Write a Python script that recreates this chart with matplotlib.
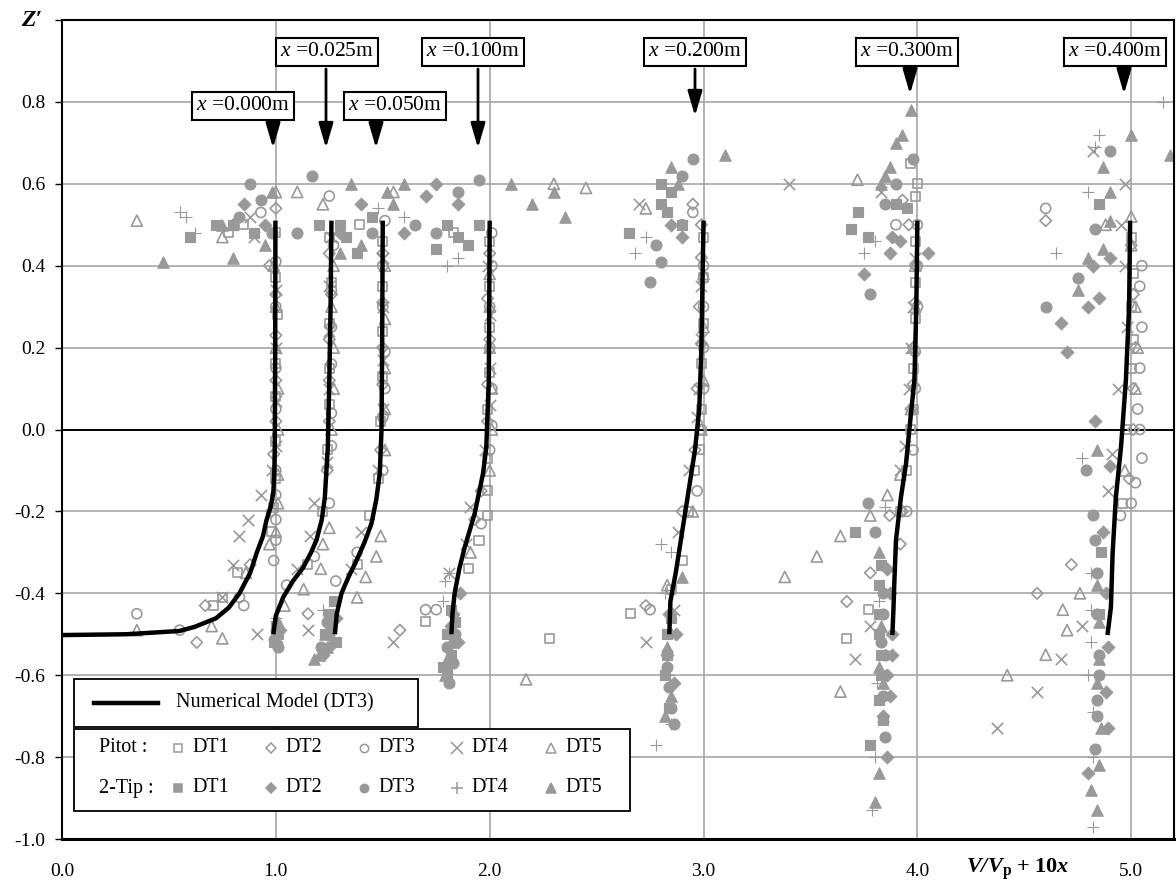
import matplotlib
matplotlib.use("Agg")
import matplotlib.pyplot as plt
from matplotlib.patches import Rectangle
from matplotlib.lines import Line2D

# ---------------- data ----------------
XTICKS = [0.0, 1.0, 2.0, 3.0, 4.0, 5.0]
XTICKLABELS = ["0.0", "1.0", "2.0", "3.0", "4.0", "5.0"]
YTICKS = [-1.0, -0.8, -0.6, -0.4, -0.2, 0.0, 0.2, 0.4, 0.6, 0.8, 1.0]
YTICKLABELS = ["-1.0", "-0.8", "-0.6", "-0.4", "-0.2", "0.0", "0.2", "0.4", "0.6", "0.8", ""]

PROFILE_LABELS = ["0.000", "0.025", "0.050", "0.100", "0.200", "0.300", "0.400"]

# numerical model (DT3) profiles: x = V/Vp + 10x, y = Z'
MODEL_000_X = [0.0, 0.30, 0.55, 0.62, 0.72, 0.78, 0.83, 0.88, 0.91, 0.94, 0.956, 0.975, 0.988, 0.993, 0.995, 0.997, 0.998]
MODEL_000_Y = [-0.502, -0.500, -0.492, -0.482, -0.461, -0.435, -0.40, -0.35, -0.302, -0.26, -0.222, -0.19, -0.156, -0.10, -0.044, 0.2, 0.51]
MODEL_025_X = [0.988, 1.00, 1.034, 1.08, 1.128, 1.165, 1.19, 1.215, 1.229, 1.243, 1.25, 1.256, 1.26]
MODEL_025_Y = [-0.50, -0.455, -0.41, -0.37, -0.337, -0.30, -0.27, -0.22, -0.166, -0.044, 0.12, 0.3, 0.51]
MODEL_050_X = [1.276, 1.285, 1.307, 1.34, 1.377, 1.415, 1.447, 1.47, 1.486, 1.494, 1.497, 1.50]
MODEL_050_Y = [-0.50, -0.45, -0.40, -0.36, -0.32, -0.275, -0.23, -0.17, -0.107, -0.002, 0.2, 0.51]
MODEL_100_X = [1.821, 1.826, 1.836, 1.858, 1.883, 1.93, 1.969, 1.984, 1.99, 1.996, 2.0]
MODEL_100_Y = [-0.50, -0.45, -0.40, -0.34, -0.288, -0.205, -0.107, -0.044, 0.039, 0.12, 0.51]
MODEL_200_X = [2.84, 2.845, 2.87, 2.90, 2.93, 2.96, 2.98, 2.99, 3.0]
MODEL_200_Y = [-0.50, -0.42, -0.35, -0.25, -0.15, -0.05, 0.05, 0.2, 0.51]
MODEL_300_X = [3.883, 3.888, 3.892, 3.90, 3.923, 3.947, 3.97, 3.986, 3.995, 4.0]
MODEL_300_Y = [-0.502, -0.44, -0.376, -0.27, -0.166, -0.083, 0.039, 0.12, 0.3, 0.51]
MODEL_400_X = [4.889, 4.905, 4.913, 4.928, 4.952, 4.975, 4.99, 4.995]
MODEL_400_Y = [-0.502, -0.434, -0.302, -0.166, -0.044, 0.12, 0.3, 0.51]

# Pitot tube measurements (open markers), (V/Vp + 10x, Z')
PITOT_DT1 = [(1.00, 0.48), (1.00, 0.37), (1.01, 0.28), (1.00, 0.16), (1.00, 0.08), (1.00, -0.03), (1.00, -0.12),
             (0.99, -0.19), (0.98, -0.25), (0.82, -0.35), (0.75, -0.41), (0.71, -0.43), (0.85, 0.50), (0.78, 0.48),
             (1.25, 0.47), (1.26, 0.36), (1.25, 0.26), (1.25, 0.15), (1.25, 0.06), (1.24, -0.05), (1.22, -0.20), (1.15, -0.33),
             (1.50, 0.46), (1.50, 0.35), (1.50, 0.24), (1.50, 0.13), (1.49, 0.02), (1.48, -0.12), (1.44, -0.21),
             (1.38, -0.33), (1.39, 0.50),
             (2.00, 0.46), (2.00, 0.35), (2.00, 0.25), (2.00, 0.14), (1.99, 0.05), (1.99, -0.07), (1.99, -0.15),
             (1.99, -0.21), (1.95, -0.27), (1.90, -0.34), (1.70, -0.47), (1.83, 0.48),
             (3.00, 0.47), (3.00, 0.37), (3.00, 0.26), (2.99, 0.16), (2.99, 0.05), (2.98, -0.05), (2.96, -0.10),
             (2.93, -0.20), (2.90, -0.32), (2.66, -0.45), (2.28, -0.51), (2.85, -0.39),
             (4.00, 0.60), (3.99, 0.46), (3.99, 0.36), (3.99, 0.27), (3.98, 0.15), (3.98, 0.05), (3.97, 0.00),
             (3.95, -0.10), (3.92, -0.20), (3.77, -0.44), (3.67, -0.51), (3.97, 0.65), (3.99, 0.57),
             (5.00, 0.47), (5.00, 0.30), (5.01, 0.22), (5.00, 0.15), (4.98, 0.00), (4.96, -0.18), (5.01, 0.38)]
PITOT_DT2 = [(1.00, 0.54), (0.97, 0.40), (1.00, 0.33), (1.00, 0.23), (1.00, 0.12), (1.00, 0.02), (0.99, -0.06),
             (0.98, -0.20), (0.88, -0.33), (0.67, -0.43), (0.63, -0.52),
             (1.25, 0.43), (1.26, 0.33), (1.25, 0.22), (1.25, 0.12), (1.25, 0.02), (1.24, -0.10), (1.15, -0.45),
             (1.50, 0.43), (1.50, 0.31), (1.50, 0.20), (1.50, 0.11), (1.49, -0.05), (1.58, -0.49),
             (2.00, 0.43), (1.99, 0.32), (2.00, 0.22), (1.99, 0.11), (1.99, 0.02), (1.96, -0.15), (1.93, -0.22),
             (2.99, 0.50), (2.99, 0.42), (2.98, 0.30), (2.99, 0.21), (2.97, 0.10), (2.96, -0.05), (2.90, -0.20),
             (2.73, -0.43), (2.95, 0.55),
             (3.99, 0.40), (3.99, 0.31), (3.98, 0.20), (3.98, 0.11), (3.97, 0.05), (3.93, -0.20), (3.87, -0.21),
             (3.92, -0.28), (3.78, -0.35), (3.67, -0.42), (3.93, 0.56), (3.96, 0.50),
             (5.00, 0.45), (5.01, 0.33), (5.02, 0.20), (5.01, 0.10), (5.01, 0.00), (4.72, -0.33), (4.56, -0.40),
             (4.60, 0.51), (4.99, -0.12)]
PITOT_DT3 = [(0.35, -0.45), (0.55, -0.49), (0.83, -0.41), (0.85, -0.43), (0.99, -0.32), (1.00, -0.27), (1.00, -0.22),
             (1.00, -0.16), (1.00, -0.10), (1.00, 0.05), (1.00, 0.15), (1.00, 0.30), (1.00, 0.41), (0.93, 0.53),
             (1.25, -0.18), (1.18, -0.31), (1.05, -0.38), (1.26, -0.04), (1.26, 0.04), (1.26, 0.16), (1.26, 0.25),
             (1.26, 0.34), (1.27, 0.45), (1.25, 0.57),
             (1.38, -0.30), (1.28, -0.37), (1.50, -0.10), (1.50, 0.03), (1.51, 0.10), (1.51, 0.19), (1.50, 0.30),
             (1.50, 0.40), (1.51, 0.51),
             (1.96, -0.23), (2.00, -0.05), (2.01, 0.01), (2.01, 0.10), (2.00, 0.20), (2.00, 0.30), (2.01, 0.40),
             (1.70, -0.44), (1.75, -0.44), (2.01, 0.48),
             (3.00, 0.40), (3.00, 0.30), (3.00, 0.20), (3.00, 0.10), (2.99, 0.00), (2.97, -0.15), (2.75, -0.44),
             (2.90, 0.50), (2.95, 0.53),
             (4.00, 0.50), (4.00, 0.40), (4.00, 0.30), (3.99, 0.19), (3.99, 0.10), (3.98, -0.05), (3.95, -0.20), (3.90, 0.50),
             (5.04, 0.35), (5.05, 0.25), (5.04, 0.15), (5.03, 0.05), (5.05, -0.07), (5.00, -0.18), (4.95, -0.21),
             (4.60, 0.54), (5.05, 0.40), (5.04, 0.00), (5.02, -0.13)]
PITOT_DT4 = [(0.93, -0.16), (0.87, -0.22), (0.83, -0.26), (0.80, -0.33), (0.75, -0.41), (0.98, -0.10), (1.00, -0.04),
             (1.00, 0.07), (1.00, 0.20), (1.00, 0.34), (0.88, 0.52), (0.90, 0.47), (0.91, -0.50),
             (1.18, -0.18), (1.16, -0.26), (1.10, -0.34), (1.15, -0.49), (1.24, -0.08), (1.25, 0.10), (1.25, 0.24),
             (1.25, 0.35), (1.26, 0.47),
             (1.40, -0.25), (1.35, -0.34), (1.48, -0.10), (1.50, 0.05), (1.50, 0.17), (1.50, 0.30), (1.50, 0.42), (1.55, -0.52),
             (1.91, -0.19), (1.89, -0.28), (1.81, -0.35), (1.98, -0.05), (2.00, 0.06), (2.00, 0.15), (2.00, 0.28), (1.99, 0.40),
             (2.88, -0.25), (2.93, -0.10), (2.97, 0.03), (2.98, 0.10), (2.99, 0.22), (2.99, 0.35), (2.70, 0.55),
             (2.73, -0.52), (2.86, -0.44),
             (3.40, 0.60), (3.71, -0.56), (3.78, -0.48), (3.92, -0.10), (3.94, -0.04), (3.96, 0.10), (3.97, 0.20),
             (3.98, 0.30), (3.99, 0.42), (3.83, 0.58),
             (4.91, -0.06), (4.94, 0.10), (4.89, -0.15), (4.77, -0.48), (4.67, -0.56), (4.56, -0.64), (4.37, -0.73),
             (4.82, 0.68), (4.97, 0.60), (4.95, 0.50), (4.98, 0.25), (4.97, 0.40)]
PITOT_DT5 = [(0.35, -0.49), (0.70, -0.48), (0.75, -0.51), (0.86, -0.35), (0.97, -0.28), (1.00, -0.25), (1.01, -0.18),
             (1.01, -0.11), (1.01, 0.00), (1.01, 0.10), (1.00, 0.20), (1.00, 0.30), (0.99, 0.40), (0.35, 0.51),
             (0.75, 0.47), (0.80, 0.50), (1.00, 0.58),
             (1.25, -0.24), (1.22, -0.28), (1.21, -0.34), (1.13, -0.39), (1.04, -0.43), (1.26, 0.00), (1.27, 0.10),
             (1.27, 0.20), (1.26, 0.30), (1.27, 0.40), (1.10, 0.58), (1.22, 0.55),
             (1.49, -0.26), (1.47, -0.31), (1.42, -0.36), (1.38, -0.41), (1.51, -0.05), (1.51, 0.05), (1.51, 0.15),
             (1.51, 0.27), (1.51, 0.40), (1.55, 0.58),
             (1.91, -0.30), (2.00, -0.10), (2.01, 0.00), (2.01, 0.10), (2.00, 0.20), (2.00, 0.30), (2.00, 0.38),
             (2.17, -0.61), (2.30, 0.60), (2.45, 0.59),
             (2.95, -0.20), (2.99, 0.00), (3.00, 0.12), (3.00, 0.25), (3.00, 0.38), (2.73, 0.54), (2.83, -0.38),
             (3.38, -0.36), (3.53, -0.31), (3.64, -0.26), (3.78, -0.21), (3.86, -0.16), (3.92, -0.11), (3.64, -0.64),
             (3.72, 0.61), (3.97, 0.05), (3.98, 0.20), (3.99, 0.30), (3.99, 0.40),
             (4.76, -0.40), (4.68, -0.44), (4.70, -0.49), (4.60, -0.55), (4.42, -0.60), (4.88, 0.50), (5.00, 0.52),
             (5.00, 0.45), (5.02, 0.10), (4.97, -0.10), (5.02, 0.30), (5.03, 0.20)]

# two-tip probe measurements (filled markers)
TIP_DT1 = [(0.60, 0.47), (0.80, 0.50), (0.90, 0.48), (0.72, 0.50),
           (1.00, -0.48), (1.01, -0.50), (0.99, -0.52),
           (1.30, 0.50), (1.38, 0.43), (1.45, 0.52), (1.33, 0.47), (1.20, 0.50),
           (1.23, -0.50), (1.25, -0.45), (1.28, -0.52), (1.27, -0.42), (1.26, -0.48),
           (1.75, 0.44), (1.80, 0.50), (1.85, 0.47), (1.90, 0.45), (1.95, 0.50),
           (1.80, -0.50), (1.82, -0.55), (1.78, -0.58), (1.80, -0.60), (1.84, -0.47), (1.82, -0.44),
           (2.80, 0.60), (2.85, 0.58), (2.65, 0.48), (2.80, 0.55), (2.90, 0.50), (2.83, 0.53),
           (2.83, -0.50), (2.82, -0.60), (2.84, -0.68), (2.85, -0.46), (2.83, -0.55),
           (3.72, 0.53), (3.69, 0.49), (3.77, 0.47), (3.90, 0.55), (3.95, 0.54),
           (3.71, -0.25), (3.83, -0.33), (3.82, -0.38), (3.82, -0.45), (3.82, -0.50), (3.83, -0.55), (3.83, -0.60),
           (3.82, -0.66), (3.84, -0.71), (3.78, -0.77),
           (4.85, 0.55), (4.86, -0.30), (4.85, -0.45)]
TIP_DT2 = [(0.85, 0.55), (0.95, 0.50), (1.00, -0.52), (1.02, -0.49),
           (1.30, 0.48), (1.25, -0.53), (1.22, -0.55), (1.28, -0.46), (1.40, 0.55),
           (1.75, 0.60), (1.85, 0.55), (1.70, 0.57), (1.60, 0.48),
           (1.82, -0.48), (1.85, -0.52), (1.83, -0.45), (1.86, -0.40), (1.80, -0.58),
           (2.90, 0.47), (2.85, 0.50), (2.83, -0.55), (2.86, -0.62), (2.87, -0.50), (2.84, -0.45),
           (3.75, 0.38), (3.87, 0.43), (3.92, 0.46), (3.88, 0.47), (4.05, 0.43), (3.86, -0.80), (3.88, -0.50),
           (3.87, -0.40), (3.86, -0.60), (3.84, -0.70), (3.88, -0.55), (3.87, -0.65), (3.86, -0.34),
           (4.67, 0.26), (4.70, 0.19), (4.80, 0.30), (4.85, 0.32), (4.82, 0.40), (4.90, 0.42), (4.83, 0.02),
           (4.90, -0.09), (4.80, -0.84), (4.89, -0.73), (4.88, -0.64), (4.89, -0.53), (4.88, -0.40), (4.87, -0.25)]
TIP_DT3 = [(0.88, 0.60), (0.93, 0.56), (0.98, 0.48), (1.01, -0.53), (1.00, -0.49), (0.83, 0.52),
           (1.17, 0.62), (1.45, 0.48), (1.25, -0.50), (1.21, -0.53), (1.24, -0.47), (1.10, 0.48),
           (1.85, 0.58), (1.95, 0.61), (1.75, 0.48), (1.65, 0.50),
           (1.80, -0.53), (1.83, -0.57), (1.81, -0.62), (1.84, -0.50),
           (2.75, 0.36), (2.95, 0.66), (2.90, 0.62), (2.80, 0.41), (2.78, 0.45), (2.85, -0.68), (2.83, -0.58),
           (2.84, -0.63), (2.86, -0.72),
           (3.78, 0.33), (3.98, 0.66), (3.85, 0.55), (3.90, 0.60), (3.77, -0.18), (3.80, -0.25), (3.84, -0.45),
           (3.85, -0.55), (3.84, -0.65), (3.85, -0.75), (3.84, -0.40), (3.83, -0.52),
           (4.90, 0.68), (4.60, 0.30), (4.75, 0.37), (4.83, 0.49), (4.79, -0.10), (4.83, -0.78), (4.84, -0.66),
           (4.85, -0.55), (4.84, -0.35), (4.83, -0.27), (4.82, -0.21), (4.84, -0.45), (4.85, -0.60), (4.84, -0.70)]
TIP_DT4 = [(0.55, 0.53), (0.58, 0.52), (0.62, 0.48), (1.00, -0.46),
           (1.48, 0.54), (1.60, 0.52), (1.22, -0.44),
           (1.80, 0.40), (1.85, 0.42), (1.78, -0.42),
           (1.79, -0.37), (1.81, -0.35),
           (2.73, 0.47), (2.68, 0.43), (2.80, -0.28), (2.85, -0.30), (2.78, -0.77), (2.85, -0.72), (2.82, -0.40),
           (2.84, -0.60),
           (3.75, 0.43), (3.80, 0.46), (3.85, -0.19), (3.80, -0.80), (3.79, -0.93), (3.82, -0.42), (3.81, -0.62),
           (5.15, 0.80), (4.85, 0.72), (4.83, 0.69), (4.80, 0.58), (4.65, 0.43), (4.77, -0.07), (4.82, -0.97),
           (4.82, -0.80), (4.82, -0.69), (4.81, -0.52), (4.81, -0.44), (4.80, -0.60), (4.81, -0.35)]
TIP_DT5 = [(0.47, 0.41), (0.75, 0.50), (0.80, 0.42), (0.95, 0.45), (0.98, 0.58), (0.99, -0.50), (1.01, -0.47),
           (1.35, 0.60), (1.40, 0.45), (1.30, 0.43), (1.20, -0.55), (1.24, -0.53), (1.18, -0.56), (1.23, -0.50),
           (1.52, 0.58), (1.60, 0.60), (1.55, 0.55),
           (2.10, 0.60), (2.30, 0.58), (2.20, 0.55), (2.35, 0.52), (1.80, -0.56), (1.79, -0.60), (1.82, -0.52),
           (2.85, 0.64), (3.10, 0.67), (2.88, 0.60), (2.90, -0.36), (2.82, -0.70), (2.83, -0.53), (2.85, -0.65),
           (3.97, 0.78), (3.93, 0.72), (3.90, 0.70), (3.87, 0.64), (3.85, 0.62), (3.83, 0.60), (3.80, -0.91),
           (3.82, -0.84), (3.84, -0.70), (3.82, -0.30), (3.83, -0.48), (3.82, -0.58), (3.84, -0.62),
           (5.00, 0.72), (5.18, 0.67), (4.87, 0.64), (4.90, 0.58), (4.90, 0.51), (4.87, 0.44), (4.75, 0.34),
           (4.80, 0.42), (4.81, -0.88), (4.84, -0.93), (4.85, -0.82), (4.86, -0.73), (4.85, -0.56), (4.84, -0.05),
           (4.84, -0.62), (4.85, -0.47), (4.84, -0.38)]

SERIES_NAMES = ["DT1", "DT2", "DT3", "DT4", "DT5"]

# ---------------- style ----------------
plt.rcParams["font.family"] = ["Liberation Serif", "DejaVu Serif"]
plt.rcParams["mathtext.fontset"] = "custom"
plt.rcParams["mathtext.rm"] = "Liberation Serif"
plt.rcParams["mathtext.it"] = "Liberation Serif:italic"
plt.rcParams["mathtext.bf"] = "Liberation Serif:bold"
try:
    plt.rcParams["mathtext.bfit"] = "Liberation Serif:bold:italic"
    HAVE_BFIT = True
except KeyError:
    HAVE_BFIT = False

GREY = "#999999"
W, H = 1176, 886
fig = plt.figure(figsize=(W / 100, H / 100), dpi=100)
L, R, T, B = 62, 1174, 20, 839
ax = fig.add_axes([L / W, 1 - B / H, (R - L) / W, (B - T) / H])
ax.set_xlim(0, 5.2)
ax.set_ylim(-1.0, 1.0)

for xv in XTICKS[1:]:
    ax.axvline(xv, color="#a6a6a6", lw=1.2, zorder=0.5)
for yv in YTICKS[1:-1]:
    if abs(yv) < 1e-9:
        ax.axhline(yv, color="black", lw=1.4, zorder=0.6)
    else:
        ax.axhline(yv, color="#a6a6a6", lw=1.2, zorder=0.5)

ax.set_xticks(XTICKS)
ax.set_xticklabels(XTICKLABELS, fontsize=14)
ax.set_yticks(YTICKS)
ax.set_yticklabels(YTICKLABELS, fontsize=14)
ax.tick_params(axis="x", length=0, pad=17)
ax.tick_params(axis="y", length=5, width=1, direction="out", pad=7)
for s in ax.spines.values():
    s.set_linewidth(1.5)
ax.spines["bottom"].set_linewidth(2.2)

def scatter_series(pts, marker, filled, size):
    xs = [p[0] for p in pts]
    ys = [p[1] for p in pts]
    if filled:
        ax.scatter(xs, ys, marker=marker, s=size, c=GREY, edgecolors=GREY, linewidths=0.8, zorder=2)
    elif marker in ("x", "+"):
        ax.scatter(xs, ys, marker=marker, s=size, c=GREY, linewidths=1.2, zorder=2)
    else:
        ax.scatter(xs, ys, marker=marker, s=size, facecolors="none", edgecolors=GREY, linewidths=1.2, zorder=2)

scatter_series(PITOT_DT1, "s", False, 42)
scatter_series(PITOT_DT2, "D", False, 34)
scatter_series(PITOT_DT3, "o", False, 52)
scatter_series(PITOT_DT4, "x", False, 66)
scatter_series(PITOT_DT5, "^", False, 64)
scatter_series(TIP_DT1, "s", True, 50)
scatter_series(TIP_DT2, "D", True, 42)
scatter_series(TIP_DT3, "o", True, 62)
scatter_series(TIP_DT4, "+", True, 85)
scatter_series(TIP_DT5, "^", True, 68)

for mx, my in [(MODEL_000_X, MODEL_000_Y), (MODEL_025_X, MODEL_025_Y), (MODEL_050_X, MODEL_050_Y),
               (MODEL_100_X, MODEL_100_Y), (MODEL_200_X, MODEL_200_Y), (MODEL_300_X, MODEL_300_Y),
               (MODEL_400_X, MODEL_400_Y)]:
    ax.plot(mx, my, color="black", lw=3.2, solid_capstyle="butt", zorder=3)

# ---------------- annotations ----------------
def px2data(px, py):
    return ((px - L) / (R - L) * 5.2, 1.0 - (py - T) / (B - T) * 2.0)

# (box centre px x, box centre px y, arrow px x, arrow start py, arrow tip py)
ANNOT_LAYOUT = [(243, 106, 273, 123, 148), (327, 52, 326, 69, 148), (395, 106, 376, 123, 148),
                (473, 52, 478, 69, 148), (695, 52, 695, 69, 116), (907, 52, 910, 69, 94),
                (1115, 52, 1124, 69, 94)]
for lab, (bx, by, axx, ay0, ay1) in zip(PROFILE_LABELS, ANNOT_LAYOUT):
    tx, ty = px2data(bx, by)
    ax.text(tx, ty, r"$\mathit{x}$ =" + lab + "m", fontsize=15.5, ha="center", va="center", zorder=6,
            bbox=dict(boxstyle="square,pad=0.2", fc="white", ec="black", lw=1.5))
    x0, y0 = px2data(axx, ay0)
    x1, y1 = px2data(axx, ay1)
    ax.annotate("", xy=(x1, y1), xytext=(x0, y0), zorder=5,
                arrowprops=dict(arrowstyle="-|>,head_length=0.75,head_width=0.22", lw=2, color="black",
                                mutation_scale=20, shrinkA=0, shrinkB=0))

# ---------------- axis titles ----------------
def fp(px, py):
    return (px / W, 1 - py / H)

fig.text(*fp(32, 20), "Z\u2032", fontsize=17, fontweight="bold", fontstyle="italic", ha="center", va="center")
if HAVE_BFIT:
    xlab = r"$\mathbfit{V/V}_{\mathbf{p}}\ \mathbf{+\ 10}\mathbfit{x}$"
else:
    xlab = r"$\mathbf{V/V_p\ +\ 10x}$"
fig.text(*fp(1018, 869), xlab, fontsize=16, ha="center", va="center")

# ---------------- legends ----------------
def frect(x0, y0, x1, y1):
    fig.add_artist(Rectangle(fp(x0, y1), (x1 - x0) / W, (y1 - y0) / H, transform=fig.transFigure,
                             fc="white", ec="black", lw=1.3, zorder=4))

frect(74, 679, 418, 727)
fig.add_artist(Line2D([94 / W, 158 / W], [1 - 703 / H, 1 - 703 / H], transform=fig.transFigure,
                      color="black", lw=3.2, zorder=5))
fig.text(*fp(176, 703), "Numerical Model (DT3)", fontsize=14.5, ha="left", va="center", zorder=5)

frect(74, 729, 630, 811)
fig.text(*fp(99, 748), "Pitot :", fontsize=14.5, ha="left", va="center", zorder=5)
fig.text(*fp(99, 788), "2-Tip :", fontsize=14.5, ha="left", va="center", zorder=5)
LEG_MX = [178, 271, 364, 457, 551]
LEG_TX = [192, 285, 378, 471, 565]
PITOT_MARKERS = ["s", "D", "o", "x", "^"]
TIP_MARKERS = ["s", "D", "o", "+", "^"]
LEG_MS = [6, 5.5, 6, 8, 7]
for i, name in enumerate(SERIES_NAMES):
    for row_y, mk, filled in [(748, PITOT_MARKERS[i], False), (788, TIP_MARKERS[i], True)]:
        fx, fy = fp(LEG_MX[i], row_y)
        if filled or mk in ("x", "+"):
            fig.add_artist(Line2D([fx], [fy], transform=fig.transFigure, marker=mk, ms=LEG_MS[i],
                                  color=GREY, mfc=GREY, mec=GREY, mew=1.1, ls="none", zorder=5))
        else:
            fig.add_artist(Line2D([fx], [fy], transform=fig.transFigure, marker=mk, ms=LEG_MS[i],
                                  color=GREY, mfc="none", mec=GREY, mew=1.1, ls="none", zorder=5))
        fig.text(*fp(LEG_TX[i], row_y), name, fontsize=14.5, ha="left", va="center", zorder=5)

fig.savefig("out.png", dpi=100)
